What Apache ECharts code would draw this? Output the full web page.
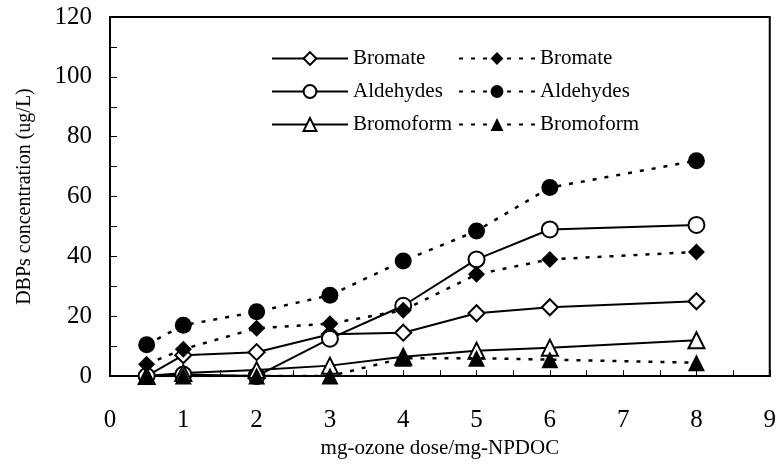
<!DOCTYPE html>
<html>
<head>
<meta charset="utf-8">
<script src="https://cdn.jsdelivr.net/npm/echarts@6/dist/echarts.min.js"></script>
<style>
  html, body { margin: 0; padding: 0; background: #fff; }
  #chart { width: 779px; height: 464px; }
</style>
</head>
<body>
<div id="chart"></div>
<script>
// x = mg-ozone dose / mg-NPDOC
var doses = [0.5, 1, 2, 3, 4, 5, 6, 8];

// solid lines, open markers
var bromateOpen   = [0, 7, 8, 14, 14.5, 21, 23, 25];
var aldehydesOpen = [0, 0.5, 0, 12.5, 23.5, 39, 49, 50.5];
var bromoformOpen = [0, 1, 2, 3.5, 6.5, 8.5, 9.5, 12];

// dashed lines, filled markers
var bromateFilled   = [4, 9, 16, 17.5, 22, 34, 39, 41.5];
var aldehydesFilled = [10.5, 17, 21.5, 27, 38.5, 48.5, 63, 72];
var bromoformFilled = [0, 0, 0, 0, 6, 6, 5.5, 4.5];

var xTicks = [0, 1, 2, 3, 4, 5, 6, 7, 8, 9];
var yTicks = [0, 20, 40, 60, 80, 100, 120];

var font = 'Liberation Serif';

function pairs(arr) {
  return doses.map(function (d, i) { return [d, arr[i]]; });
}

function openSeries(name, sym, vals) {
  return {
    name: name + '#1',
    type: 'line',
    data: pairs(vals),
    symbol: sym,
    symbolSize: 16,
    lineStyle: { color: '#000', width: 2, type: 'solid' },
    itemStyle: { color: '#fff', borderColor: '#000', borderWidth: 2 },
    z: 3
  };
}

function filledSeries(name, sym, vals) {
  return {
    name: name + '#2',
    type: 'line',
    data: pairs(vals),
    symbol: sym,
    symbolSize: 17,
    lineStyle: { color: '#000', width: 2.5, type: [4, 8] },
    itemStyle: { color: '#000', borderColor: '#000', borderWidth: 0 },
    z: 4
  };
}

var legendBase = {
  orient: 'vertical',
  top: 48,
  padding: 0,
  itemWidth: 76,
  itemHeight: 16,
  itemGap: 12,
  formatter: function (n) { return n.split('#')[0]; },
  textStyle: { fontFamily: font, fontSize: 21, color: '#000' }
};

var chart = echarts.init(document.getElementById('chart'));
chart.setOption({
  animation: false,
  backgroundColor: '#fff',
  grid: {
    left: 110, right: 6, top: 17, bottom: 87,
    show: true, borderColor: '#000', borderWidth: 2
  },
  legend: [
    Object.assign({}, legendBase, {
      left: 271,
      data: ['Bromate#1', 'Aldehydes#1', 'Bromoform#1']
    }),
    Object.assign({}, legendBase, {
      left: 458,
      data: ['Bromate#2', 'Aldehydes#2', 'Bromoform#2']
    })
  ],
  xAxis: {
    type: 'value',
    min: xTicks[0],
    max: xTicks[xTicks.length - 1],
    interval: 1,
    name: 'mg-ozone dose/mg-NPDOC',
    nameLocation: 'middle',
    nameGap: 60,
    nameTextStyle: { fontFamily: font, fontSize: 21, color: '#000' },
    axisLine: { lineStyle: { color: '#000', width: 2 } },
    axisTick: { inside: true, length: 6, lineStyle: { color: '#000' } },
    minorTick: { show: true, splitNumber: 2, length: 6, lineStyle: { color: '#000' } },
    splitLine: { show: false },
    axisLabel: { fontFamily: font, fontSize: 25, color: '#000', margin: 32 }
  },
  yAxis: {
    type: 'value',
    min: yTicks[0],
    max: yTicks[yTicks.length - 1],
    interval: 20,
    name: 'DBPs concentration (ug/L)',
    nameLocation: 'middle',
    nameGap: 75,
    nameTextStyle: { fontFamily: font, fontSize: 20, color: '#000' },
    axisLine: { lineStyle: { color: '#000', width: 2 } },
    axisTick: { inside: true, length: 7, lineStyle: { color: '#000' } },
    minorTick: { show: true, splitNumber: 2, length: 7, lineStyle: { color: '#000' } },
    splitLine: { show: false },
    axisLabel: { fontFamily: font, fontSize: 25, color: '#000', margin: 18 }
  },
  series: [
    openSeries('Bromate', 'diamond', bromateOpen),
    openSeries('Aldehydes', 'circle', aldehydesOpen),
    openSeries('Bromoform', 'triangle', bromoformOpen),
    filledSeries('Bromate', 'diamond', bromateFilled),
    filledSeries('Aldehydes', 'circle', aldehydesFilled),
    filledSeries('Bromoform', 'triangle', bromoformFilled)
  ]
});
</script>
</body>
</html>
